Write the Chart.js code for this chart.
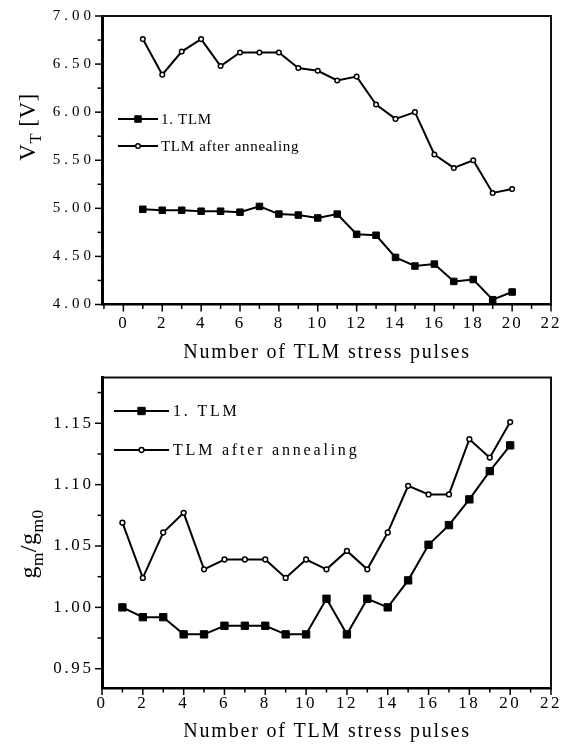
<!DOCTYPE html>
<html>
<head>
<meta charset="utf-8">
<script src="https://cdn.jsdelivr.net/npm/chart.js@4.4.1/dist/chart.umd.min.js"></script>
<style>
  html, body { margin: 0; padding: 0; background: #fff; }
  #wrap { position: relative; width: 574px; height: 747px; }
  .panel { position: absolute; left: 0; width: 574px; }
  #top { top: 0; height: 370px; }
  #bottom { top: 370px; height: 377px; }
  canvas { display: block; }
</style>
</head>
<body>
<div id="wrap">
  <div class="panel" id="top"><canvas id="vt" width="574" height="370"></canvas></div>
  <div class="panel" id="bottom"><canvas id="gm" width="574" height="377"></canvas></div>
</div>
<script>
// ---- measured data -------------------------------------------------------
const pulses = [1, 2, 3, 4, 5, 6, 7, 8, 9, 10, 11, 12, 13, 14, 15, 16, 17, 18, 19, 20];
const seriesNames = ['1. TLM', 'TLM after annealing'];

// threshold voltage V_T [V]
const vtFirst    = [4.99, 4.98, 4.98, 4.97, 4.97, 4.96, 5.02, 4.94, 4.93, 4.90,
                    4.94, 4.73, 4.72, 4.49, 4.40, 4.42, 4.24, 4.26, 4.05, 4.13];
const vtAnnealed = [6.76, 6.39, 6.63, 6.76, 6.48, 6.62, 6.62, 6.62, 6.46, 6.43,
                    6.33, 6.37, 6.08, 5.93, 6.00, 5.56, 5.42, 5.50, 5.16, 5.20];

// normalised transconductance g_m / g_m0
const gmFirst    = [1.000, 0.992, 0.992, 0.978, 0.978, 0.985, 0.985, 0.985, 0.978, 0.978,
                    1.007, 0.978, 1.007, 1.000, 1.022, 1.051, 1.067, 1.088, 1.111, 1.132];
const gmAnnealed = [1.069, 1.024, 1.061, 1.077, 1.031, 1.039, 1.039, 1.039, 1.024, 1.039,
                    1.031, 1.046, 1.031, 1.061, 1.099, 1.092, 1.092, 1.137, 1.122, 1.151];

// axis tick labels
const pulseTicks = [0, 2, 4, 6, 8, 10, 12, 14, 16, 18, 20, 22];
const vtTicks    = [4.0, 4.5, 5.0, 5.5, 6.0, 6.5, 7.0];
const gmTicks    = [0.95, 1.00, 1.05, 1.10, 1.15];

// ---- drawing helpers -----------------------------------------------------
const INK = '#000';
const SERIF = "'Liberation Serif', 'Times New Roman', serif";

const points = (ys) => pulses.map((p, i) => ({ x: p, y: ys[i] }));

function setSpacing(ctx, px) {
  if ('letterSpacing' in ctx) ctx.letterSpacing = px + 'px';
}

// text with optional subscript segments, e.g. V_T
function richWidth(ctx, segs, size) {
  let w = 0;
  for (const s of segs) {
    ctx.font = `${s.sub ? size * 0.72 : size}px ${SERIF}`;
    w += ctx.measureText(s.t).width;
  }
  return w;
}
function drawRich(ctx, segs, x, y, size, drop) {
  let cx = x;
  for (const s of segs) {
    ctx.font = `${s.sub ? size * 0.72 : size}px ${SERIF}`;
    ctx.fillText(s.t, cx, y + (s.sub ? size * drop : 0));
    cx += ctx.measureText(s.t).width;
  }
}

function drawMarker(ctx, ds, x, y) {
  ctx.save();
  ctx.lineWidth = ds.pointBorderWidth;
  ctx.strokeStyle = ds.pointBorderColor;
  ctx.fillStyle = ds.pointBackgroundColor;
  ctx.beginPath();
  if (ds.pointStyle === 'rect') {
    const h = Math.SQRT1_2 * ds.pointRadius;
    ctx.rect(x - h, y - h, 2 * h, 2 * h);
  } else {
    ctx.arc(x, y, ds.pointRadius, 0, Math.PI * 2);
  }
  ctx.fill();
  ctx.stroke();
  ctx.restore();
}

// letter-spaced tick labels per axis
const spacedLabels = {
  id: 'spacedLabels',
  beforeDraw(chart, args, o) {
    for (const id of Object.keys(o)) {
      const s = chart.scales[id];
      if (!s || s._spacedLabels) continue;
      const base = s.drawLabels;
      const px = o[id];
      s.drawLabels = function (area) {
        const ctx = this.ctx;
        const prev = ctx.letterSpacing;
        setSpacing(ctx, px);
        base.call(this, area);
        if (prev !== undefined) ctx.letterSpacing = prev;
      };
      s._spacedLabels = true;
    }
  }
};

// outward major and minor tick marks
const tickMarks = {
  id: 'tickMarks',
  afterDraw(chart, args, o) {
    const ctx = chart.ctx;
    ctx.save();
    ctx.strokeStyle = INK;
    ctx.lineWidth = o.width;
    for (const id of ['x', 'y']) {
      const s = chart.scales[id];
      const spec = o[id];
      const majors = s.ticks.map(t => t.value);
      const step = majors[1] - majors[0];
      const minors = [];
      for (let v = majors[0] - step / 2; v <= s.max + 1e-9; v += step) {
        if (v >= s.min - 1e-9) minors.push(v);
      }
      const mark = (v, len) => {
        const p = s.getPixelForValue(v);
        ctx.beginPath();
        if (s.isHorizontal()) { ctx.moveTo(p, s.top); ctx.lineTo(p, s.top + len); }
        else { ctx.moveTo(s.right, p); ctx.lineTo(s.right - len, p); }
        ctx.stroke();
      };
      majors.forEach(v => mark(v, spec.major));
      minors.forEach(v => mark(v, spec.minor));
    }
    ctx.restore();
  }
};

// closing top and right edges of the plot box
const frame = {
  id: 'frame',
  afterDraw(chart, args, o) {
    const { ctx, chartArea: a } = chart;
    ctx.save();
    ctx.strokeStyle = o.color;
    ctx.lineWidth = o.width;
    ctx.beginPath();
    ctx.moveTo(a.left, a.top);
    ctx.lineTo(a.right, a.top);
    ctx.lineTo(a.right, a.bottom);
    ctx.stroke();
    ctx.restore();
  }
};

// legend inside the plot box
const insetLegend = {
  id: 'insetLegend',
  afterDraw(chart, args, o) {
    const ctx = chart.ctx;
    chart.data.datasets.forEach((ds, i) => {
      const y = o.rows[i];
      ctx.save();
      ctx.strokeStyle = ds.borderColor;
      ctx.lineWidth = ds.borderWidth;
      ctx.beginPath();
      ctx.moveTo(o.x0, y);
      ctx.lineTo(o.x1, y);
      ctx.stroke();
      ctx.restore();
      drawMarker(ctx, ds, (o.x0 + o.x1) / 2, y);
      ctx.save();
      ctx.fillStyle = INK;
      ctx.font = `${o.size}px ${SERIF}`;
      setSpacing(ctx, o.spacing);
      ctx.textAlign = 'left';
      ctx.textBaseline = 'alphabetic';
      ctx.fillText(ds.label, o.textX, y + o.size * 0.33);
      ctx.restore();
    });
  }
};

// axis titles, the vertical one with subscripts
const axisTitles = {
  id: 'axisTitles',
  afterDraw(chart, args, o) {
    const ctx = chart.ctx;
    ctx.save();
    ctx.fillStyle = INK;
    ctx.textAlign = 'left';
    ctx.textBaseline = 'alphabetic';

    const xt = o.x;
    setSpacing(ctx, xt.spacing);
    const wx = richWidth(ctx, xt.segs, xt.size);
    drawRich(ctx, xt.segs, xt.center - wx / 2, xt.baseline, xt.size, 0.25);

    const yt = o.y;
    setSpacing(ctx, yt.spacing);
    const wy = richWidth(ctx, yt.segs, yt.size);
    ctx.translate(yt.baseline, yt.center);
    ctx.rotate(-Math.PI / 2);
    drawRich(ctx, yt.segs, -wy / 2, 0, yt.size, yt.drop);
    ctx.restore();
  }
};

function datasetsFor(first, annealed, sq, circ) {
  return [
    {
      label: seriesNames[0],
      data: points(first),
      borderColor: INK, borderWidth: 2,
      pointStyle: 'rect', pointRadius: sq,
      pointBackgroundColor: INK, pointBorderColor: INK, pointBorderWidth: 1,
      tension: 0, fill: false
    },
    {
      label: seriesNames[1],
      data: points(annealed),
      borderColor: INK, borderWidth: 2,
      pointStyle: 'circle', pointRadius: circ,
      pointBackgroundColor: '#fff', pointBorderColor: INK, pointBorderWidth: 1.5,
      tension: 0, fill: false
    }
  ];
}

// fixed box sizes so the plot area sits where the layout padding puts it
function fixBox(s, size) {
  if (s.isHorizontal()) s.height = size; else s.width = size;
  s.paddingTop = 0; s.paddingBottom = 0; s.paddingLeft = 0; s.paddingRight = 0;
}

function makePanel(canvas, p) {
  return new Chart(canvas, {
    type: 'line',
    data: { datasets: datasetsFor(p.first, p.annealed, p.square, p.circle) },
    options: {
      responsive: false,
      animation: false,
      devicePixelRatio: 1,
      events: [],
      layout: { padding: { top: p.padTop, right: p.padRight, left: 0, bottom: 0 } },
      scales: {
        x: {
          type: 'linear',
          min: p.xMin, max: p.xMax,
          afterBuildTicks: s => { s.ticks = pulseTicks.map(v => ({ value: v })); },
          afterFit: s => fixBox(s, p.xHeight),
          grid: { display: false, drawTicks: false },
          border: { display: true, color: INK, width: 2.5 },
          ticks: {
            color: INK, font: { family: SERIF, size: p.xTickSize },
            padding: p.xTickPad, autoSkip: false, maxRotation: 0, minRotation: 0,
            callback: v => String(v)
          }
        },
        y: {
          type: 'linear',
          min: p.yMin, max: p.yMax,
          afterBuildTicks: s => { s.ticks = p.yTicks.map(v => ({ value: v })); },
          afterFit: s => fixBox(s, p.yWidth),
          grid: { display: false, drawTicks: false },
          border: { display: true, color: INK, width: 3 },
          ticks: {
            color: INK, font: { family: SERIF, size: p.yTickSize },
            padding: p.yTickPad, autoSkip: false,
            callback: v => Number(v).toFixed(2)
          }
        }
      },
      plugins: {
        legend: { display: false },
        tooltip: { enabled: false },
        spacedLabels: { x: p.xTickSpacing, y: p.yTickSpacing },
        tickMarks: { width: 1.5, x: { major: 7, minor: 4.5 }, y: { major: 7, minor: 4.5 } },
        frame: { color: '#111', width: 2 },
        insetLegend: p.legend,
        axisTitles: p.titles
      }
    },
    plugins: [spacedLabels, tickMarks, frame, insetLegend, axisTitles]
  });
}

// upper panel: threshold voltage
makePanel(document.getElementById('vt'), {
  first: vtFirst, annealed: vtAnnealed, square: 4.6, circle: 2.3,
  xMin: -1.1, xMax: 22, yMin: 4, yMax: 7, yTicks: vtTicks,
  padTop: 16, padRight: 23, xHeight: 65.5, yWidth: 102,
  xTickSize: 17, xTickPad: 8.5, xTickSpacing: 2,
  yTickSize: 15, yTickPad: 7, yTickSpacing: 4,
  legend: { x0: 118, x1: 158, textX: 161, rows: [119, 146], size: 15, spacing: 0.7 },
  titles: {
    x: { segs: [{ t: 'Number of TLM stress pulses' }], center: 327, baseline: 358, size: 20, spacing: 1.8 },
    y: { segs: [{ t: 'V' }, { t: 'T', sub: true }, { t: ' [V]' }], center: 127, baseline: 35, size: 23, spacing: 0.5, drop: 0.28 }
  }
});

// lower panel: normalised transconductance
makePanel(document.getElementById('gm'), {
  first: gmFirst, annealed: gmAnnealed, square: 5.2, circle: 2.4,
  xMin: 0, xMax: 22, yMin: 0.9343, yMax: 1.1872, yTicks: gmTicks,
  padTop: 7.6, padRight: 23, xHeight: 59, yWidth: 102,
  xTickSize: 17, xTickPad: 5, xTickSpacing: 2.5,
  yTickSize: 17, yTickPad: 8.5, yTickSpacing: 2.6,
  legend: { x0: 114, x1: 169, textX: 173, rows: [41, 80], size: 16, spacing: 2.8 },
  titles: {
    x: { segs: [{ t: 'Number of TLM stress pulses' }], center: 327, baseline: 366.5, size: 20, spacing: 1.8 },
    y: { segs: [{ t: 'g' }, { t: 'm', sub: true }, { t: '/g' }, { t: 'm0', sub: true }], center: 174, baseline: 36, size: 24, spacing: 0.5, drop: 0.3 }
  }
});
</script>
</body>
</html>
